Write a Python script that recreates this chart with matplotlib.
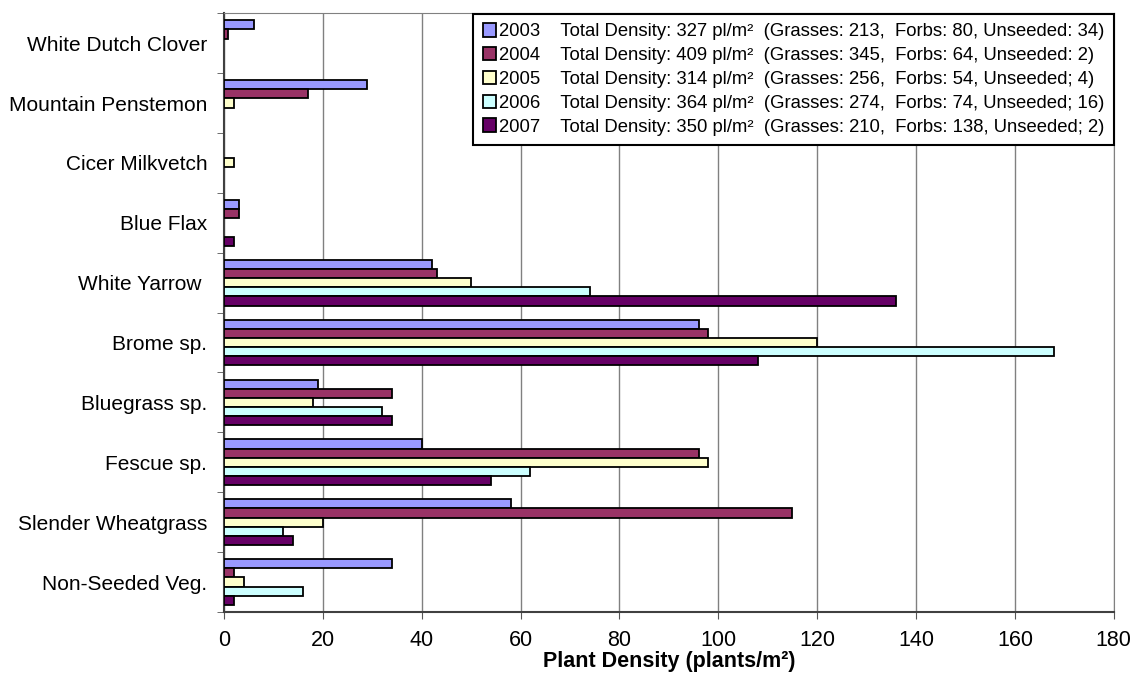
import matplotlib.pyplot as plt
import numpy

plt.rcParams['font.family'] = ['Liberation Sans', 'DejaVu Sans']

# categories listed from bottom to top
species = ['Non-Seeded Veg.', 'Slender Wheatgrass', 'Fescue sp.', 'Bluegrass sp.',
           'Brome sp.', 'White Yarrow ', 'Blue Flax', 'Cicer Milkvetch',
           'Mountain Penstemon', 'White Dutch Clover']

years = ['2003', '2004', '2005', '2006', '2007']

density2003 = [34, 58, 40, 19, 96, 42, 3, 0, 29, 6]
density2004 = [2, 115, 96, 34, 98, 43, 3, 0, 17, 0.8]
density2005 = [4, 20, 98, 18, 120, 50, 0, 2, 2, 0]
density2006 = [16, 12, 62, 32, 168, 74, 0, 0, 0, 0]
density2007 = [2, 14, 54, 34, 108, 136, 2, 0, 0, 0]

totals = [327, 409, 314, 364, 350]
grasses = [213, 345, 256, 274, 210]
forbs = [80, 64, 54, 74, 138]
unseeded = [34, 2, 4, 16, 2]
seps = [':', ':', ';', ';', ';']

colors = ['#9999FF', '#993366', '#FFFFCC', '#CCFFFF', '#660066']

allData = [density2003, density2004, density2005, density2006, density2007]

fig = plt.figure(figsize=(11.4, 6.96), dpi=100)
ax = fig.add_axes([0.1965, 0.1207, 0.7805, 0.8603])

y = numpy.arange(len(species))
barH = 0.153

for i in range(len(years)):
    offset = (2 - i) * barH
    vals = numpy.array(allData[i], dtype=float)
    vals[vals == 0] = numpy.nan  # empty cells draw nothing
    label = years[i] + '    Total Density: %d pl/m\u00b2  (Grasses: %d,  Forbs: %d, Unseeded%s %d)' % (
        totals[i], grasses[i], forbs[i], seps[i], unseeded[i])
    ax.barh(y + offset, vals, height=barH, color=colors[i],
            edgecolor='black', linewidth=1.3, label=label, zorder=3)

ax.set_xlim(0, 180)
ax.set_ylim(-0.5, len(species) - 0.5)
ax.set_xticks(numpy.arange(0, 181, 20))
ax.tick_params(axis='x', labelsize=15.5, length=5, direction='out', color='#555555', pad=8)

ax.set_yticks(y)
ax.set_yticklabels(species)
ax.set_yticks(numpy.arange(-0.5, len(species), 1), minor=True)
ax.tick_params(axis='y', which='major', length=0, labelsize=15, pad=12)
ax.tick_params(axis='y', which='minor', length=5, direction='out', color='#555555')

ax.xaxis.grid(True, color='#808080', linewidth=1.0, zorder=0)
ax.set_axisbelow(True)

ax.spines['left'].set_color('#404040')
ax.spines['left'].set_linewidth(1.5)
ax.spines['bottom'].set_color('#404040')
ax.spines['bottom'].set_linewidth(1.5)
ax.spines['top'].set_color('#808080')
ax.spines['right'].set_color('#808080')

ax.set_xlabel('Plant Density (plants/m\u00b2)', fontsize=15.5, fontweight='bold', labelpad=0)

leg = ax.legend(loc='upper right', bbox_to_anchor=(1.0, 0.999), borderaxespad=0.0,
                fontsize=13.3, fancybox=False, framealpha=1.0, edgecolor='black',
                handlelength=0.75, handleheight=0.75, handletextpad=0.15,
                labelspacing=0.36, borderpad=0.5)
leg.get_frame().set_linewidth(1.5)

plt.savefig('out.png', dpi=100)
